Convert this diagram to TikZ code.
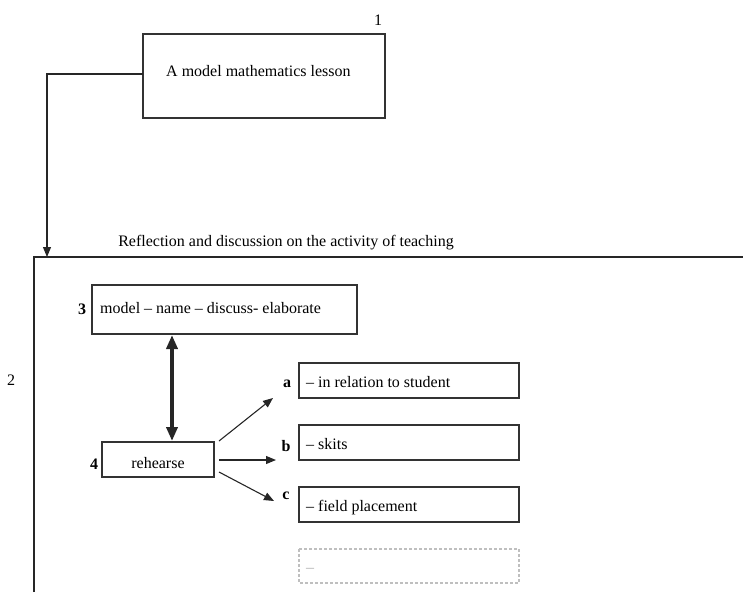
\documentclass[tikz,border=0pt]{standalone}
\usepackage{fontspec}
\setmainfont{Liberation Serif}
\usetikzlibrary{arrows.meta}
\begin{document}
\begin{tikzpicture}[x=1pt,y=-1pt,
  txt/.style={font=\fontsize{16}{18}\selectfont, inner sep=0pt},
  lbl/.style={font=\fontsize{16}{18}\selectfont\bfseries, inner sep=0pt},
  boxline/.style={draw=black!80, line width=2pt},
  arr/.style={-{Triangle[length=10pt,width=8pt]}, line width=1.1pt, draw=black!85}]
\useasboundingbox (0,0) rectangle (743,592);

% step 1
\node[txt] (n1) at (378,20) {1};
\draw[boxline] (143,34) rectangle (385,118);
\coordinate (b1w) at (143,74);
\node[txt, anchor=west] (t1) at (166,71) {A model mathematics lesson};

% step 2 frame
\node[txt] (title) at (286,243) {Reflection and discussion on the activity of teaching};
\draw[line width=2pt, draw=black!85] (34,592) -- (34,257) -- (743,257);
\coordinate (fr) at (47,257);
\draw[arr] (b1w) -- (47,74) -- (fr);
\node[txt] (n2) at (11,380) {2};

% step 3
\draw[boxline] (92,285) rectangle (357,334);
\node[txt, anchor=west] (t3) at (100,308) {model -- name -- discuss- elaborate};
\node[lbl] (n3) at (82,309) {3};
\coordinate (b3s) at (172,335);

% step 4
\node[boxline, minimum width=112pt, minimum height=35pt, inner sep=0pt] (b4) at (158,459.5) {};
\node[txt] (t4) at (158,463) {rehearse};
\node[lbl] (n4) at (94,464) {4};
\draw[{Triangle[length=14pt,width=11pt]}-{Triangle[length=14pt,width=11pt]}, line width=3.5pt, draw=black!85]
  (b3s) -- (b4.north -| b3s);

% branches
\foreach \k/\y/\txt in {a/363/{-- in relation to student}, b/425/{-- skits}}{
  \draw[boxline] (299,\y) rectangle (519,\y+35);
  \node[txt, anchor=west] (t\k) at (306,\y+19) {\txt};
}
\draw[boxline] (299,487) rectangle (519,522);
\node[txt, anchor=west] (tc) at (306,508) {-- field placement};
\draw[draw=black!25, line width=1.2pt, densely dashed] (299,549) rectangle (519,583);
\node[txt, anchor=west, text=black!30] (td) at (306,570) {--};

\node[lbl] (la) at (287,384) {a};
\node[lbl] (lb) at (286,446) {b};
\node[lbl] (lc) at (286,496) {c};

\coordinate (ea) at (273,398);
\coordinate (eb) at (276,460);
\coordinate (ec) at (274,501);
\draw[arr] (219,441) -- (ea);
\draw[arr] (219,460) -- (eb);
\draw[arr] (219,472) -- (ec);
\end{tikzpicture}
\end{document}
